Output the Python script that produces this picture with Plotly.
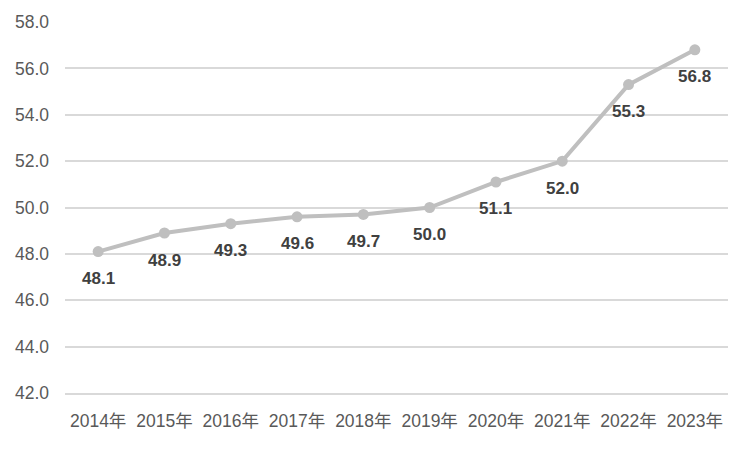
import plotly.graph_objects as go

years = ["2014年", "2015年", "2016年", "2017年", "2018年", "2019年", "2020年", "2021年", "2022年", "2023年"]
values = [48.1, 48.9, 49.3, 49.6, 49.7, 50.0, 51.1, 52.0, 55.3, 56.8]
y_ticks = [42, 44, 46, 48, 50, 52, 54, 56, 58]

fig = go.Figure()
fig.add_trace(go.Scatter(
    x=years, y=values, mode="lines+markers",
    line=dict(color="#BFBFBF", width=4),
    marker=dict(color="#BFBFBF", size=11),
    hoverinfo="skip", showlegend=False, cliponaxis=False,
))
for x, v in zip(years, values):
    fig.add_annotation(x=x, y=v, text=f"{v:.1f}", showarrow=False, yshift=-27,
                       font=dict(family="Liberation Sans, Arial, sans-serif", size=17, color="#404040", weight="bold"))

# page body has an 8px default margin; margins compensate so plot area lands at x 65-728, y 22-393
fig.update_layout(
    width=750, height=450,
    margin=dict(l=57, r=30, t=14, b=65),
    plot_bgcolor="white", paper_bgcolor="white",
    font=dict(family="Liberation Sans, Arial, sans-serif", size=17, color="#595959"),
    xaxis=dict(type="category", showgrid=False, showline=True, linecolor="#D9D9D9", linewidth=1.5,
               ticks="", range=[-0.5, 9.5], automargin=False, ticklabelstandoff=11,
               tickfont=dict(family="Liberation Sans, Noto Sans CJK SC, sans-serif", size=17.5, color="#595959")),
    yaxis=dict(range=[42, 58], tickvals=y_ticks, ticktext=[f"{t:.1f}" for t in y_ticks],
               showgrid=True, gridcolor="#D9D9D9", gridwidth=1.5, zeroline=False, showline=False,
               ticks="", automargin=False, ticklabelstandoff=15,
               tickfont=dict(family="Liberation Sans, Arial, sans-serif", size=17.5, color="#595959")),
)
fig.write_html("out.html")
